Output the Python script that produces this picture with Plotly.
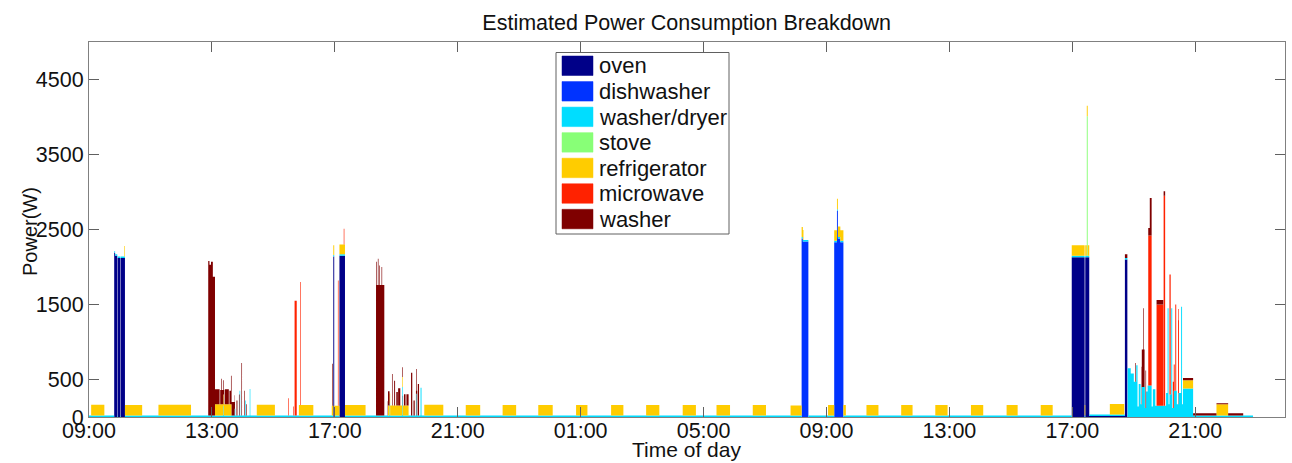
import numpy as np
import plotly.graph_objects as go

# ---------------- data (hours after 09:00 on day 1, watts) ----------------
NAMES = ["oven", "dishwasher", "washer/dryer", "stove", "refrigerator", "microwave", "washer"]
COLORS = ["#000088", "#0033FF", "#00DDFF", "#88FF77", "#FFCC00", "#FF2200", "#7F0000"]

TICK_HOURS = [0, 4, 8, 12, 16, 20, 24, 28, 32, 36]
TICK_LABELS = ["09:00", "13:00", "17:00", "21:00", "01:00", "05:00",
               "09:00", "13:00", "17:00", "21:00"]
Y_TICKS = [0, 500, 1500, 2500, 3500, 4500]

# (start_h, end_h, watts) usage intervals for each appliance
OVEN = [(0.82, 0.85, 2190), (0.85, 0.92, 2150), (0.935, 1.015, 2120), (1.03, 1.17, 2120),
        (7.95, 7.98, 2140), (8.15, 8.33, 2150),
        (31.98, 32.40, 2130), (32.42, 32.55, 2130), (32.55, 33.71, 15), (33.71, 33.79, 2100)]

DISHWASHER = [(23.19, 23.23, 2380), (23.23, 23.41, 2340),
              (24.25, 24.34, 2330), (24.34, 24.37, 2750), (24.37, 24.45, 2380), (24.45, 24.55, 2330)]

WASHER_DRYER = [(0.0, 37.88, 20),
                (4.36, 4.38, 130), (4.74, 4.76, 90), (4.90, 4.92, 330), (5.09, 5.11, 200), (5.23, 5.25, 355),
                (9.78, 9.80, 160), (10.19, 10.21, 380), (10.65, 10.67, 290), (10.79, 10.82, 370),
                (33.80, 33.90, 630), (33.90, 34.00, 560), (34.00, 34.08, 450), (34.08, 34.12, 670),
                (34.12, 34.16, 120), (34.16, 34.22, 420), (34.22, 34.26, 150), (34.26, 34.36, 380),
                (34.36, 34.40, 100), (34.40, 34.45, 320), (34.45, 34.58, 400), (34.58, 34.62, 120),
                (34.62, 34.70, 350), (34.70, 35.05, 130), (35.05, 35.10, 300), (35.10, 35.13, 1430),
                (35.13, 35.16, 150), (35.16, 35.22, 280), (35.22, 35.25, 1430), (35.25, 35.30, 100),
                (35.30, 35.40, 330), (35.40, 35.45, 150), (35.45, 35.54, 300), (35.54, 35.57, 1450),
                (35.57, 35.60, 150), (35.60, 35.93, 360)]

STOVE = [(32.47, 32.50, 1860)]

REFRIGERATOR = [(0.07, 0.50, 145), (1.15, 1.73, 140), (2.26, 3.32, 145), (4.10, 4.64, 150),
                (5.46, 6.05, 145), (6.83, 7.30, 140), (7.90, 8.33, 130), (8.33, 9.00, 140),
                (9.73, 10.40, 135), (10.91, 11.53, 145), (12.26, 12.73, 140), (13.46, 13.90, 140),
                (14.62, 15.09, 140), (15.85, 16.22, 140), (16.99, 17.39, 140), (18.13, 18.56, 140),
                (19.32, 19.75, 140), (20.42, 20.86, 140), (21.60, 22.03, 140), (22.83, 23.25, 135),
                (24.05, 24.63, 140), (25.30, 25.69, 140), (26.43, 26.80, 140), (27.54, 27.94, 140),
                (28.70, 29.10, 140), (29.86, 30.22, 140), (30.97, 31.36, 140), (31.98, 32.55, 140),
                (33.22, 33.69, 140), (35.60, 35.93, 110), (36.69, 37.07, 150)]

MICROWAVE = [(6.48, 6.50, 230), (6.64, 6.66, 120), (6.69, 6.76, 1530), (6.87, 6.89, 1640),
             (8.10, 8.12, 1670), (8.29, 8.31, 210),
             (34.47, 34.58, 2000), (34.74, 34.96, 1350), (34.97, 35.02, 2800), (35.16, 35.20, 1600),
             (35.27, 35.33, 350), (35.35, 35.38, 1150), (35.44, 35.47, 1120)]

WASHER = [(3.88, 3.92, 2060), (3.92, 3.97, 2010), (3.97, 4.03, 2050), (4.03, 4.10, 1850),
          (4.10, 4.25, 200), (4.27, 4.40, 190), (4.30, 4.32, 150), (4.42, 4.55, 200),
          (4.57, 4.75, 180), (4.62, 4.64, 200), (4.80, 4.83, 200), (4.88, 4.90, 280),
          (4.96, 4.98, 700), (5.05, 5.07, 330), (5.12, 5.14, 150), (7.91, 7.93, 560),
          (9.34, 9.61, 1740), (9.35, 9.37, 310), (9.40, 9.42, 350), (9.45, 9.47, 260), (9.52, 9.54, 240),
          (9.72, 9.78, 190), (9.86, 9.88, 420), (9.93, 9.96, 330), (10.00, 10.05, 180),
          (10.06, 10.13, 230), (10.19, 10.22, 130), (10.25, 10.30, 150), (10.33, 10.40, 150),
          (10.48, 10.52, 570), (10.56, 10.60, 200), (10.64, 10.68, 330), (10.70, 10.74, 420),
          (33.71, 33.79, 50), (34.05, 34.07, 250), (34.25, 34.35, 500), (34.30, 34.32, 550),
          (34.38, 34.40, 500), (34.47, 34.52, 100), (34.52, 34.58, 500), (34.74, 34.96, 60),
          (34.97, 35.02, 60), (35.60, 35.93, 30), (35.93, 36.69, 30), (36.69, 37.07, 15),
          (37.07, 37.56, 30)]

EVENTS = [OVEN, DISHWASHER, WASHER_DRYER, STOVE, REFRIGERATOR, MICROWAVE, WASHER]
X_END = 38.92

# ---------------- build step series on a shared time grid ----------------
bounds = {0.0, X_END}
for ev in EVENTS:
    for s, e, _ in ev:
        bounds.add(s)
        bounds.add(e)
t = np.array(sorted(bounds))

fig = go.Figure()
for name, col, ev in zip(NAMES, COLORS, EVENTS):
    v = np.zeros(len(t))
    for s, e, w in ev:
        v[(t >= s) & (t < e)] += w
    fig.add_trace(go.Scatter(x=t, y=v, name=name, stackgroup="p", mode="lines",
                             line=dict(width=0, shape="hv", color=col),
                             fillcolor=col, showlegend=False))

# ---------------- layout ----------------
L, R, T, B = 89, 1285, 42, 417
W, H = 1292, 463
FONT = "Liberation Sans, Arial, sans-serif"


def px(x):
    return (x - L) / (R - L)


def py(y):
    return (B - y) / (B - T)


axis_common = dict(showline=True, linecolor="#808080", linewidth=1, mirror="ticks",
                   ticks="inside", ticklen=10, tickcolor="#606060", showgrid=False,
                   zeroline=False, tickfont=dict(family=FONT, size=21.5, color="#111"))

fig.update_layout(
    width=W, height=H,
    margin=dict(l=L, r=W - R, t=T, b=H - B),
    paper_bgcolor="white", plot_bgcolor="white",
    title=dict(text="Estimated Power Consumption Breakdown", x=0.5315, xanchor="center",
               yref="container", y=1 - 22 / H, yanchor="middle",
               font=dict(family=FONT, size=21.5, color="#111")),
    xaxis=dict(range=[0, X_END], tickmode="array", tickvals=TICK_HOURS, ticktext=TICK_LABELS,
               ticklabelstandoff=-6, **axis_common),
    yaxis=dict(range=[0, 5000], tickmode="array", tickvals=Y_TICKS,
               ticktext=[str(v) for v in Y_TICKS], **axis_common),
    showlegend=False,
)

annotations = [
    dict(text="Time of day", x=px(686), y=py(463), xref="paper", yref="paper",
         showarrow=False, xanchor="center", yanchor="bottom",
         font=dict(family=FONT, size=21, color="#111")),
    dict(text="Power(W)", x=px(30), y=py(232), xref="paper", yref="paper",
         showarrow=False, xanchor="center", yanchor="middle", textangle=-90,
         font=dict(family=FONT, size=20, color="#111")),
]

# manual legend (MATLAB style)
shapes = [dict(type="rect", xref="paper", yref="paper", x0=px(556), x1=px(729),
               y0=py(234), y1=py(52.5), line=dict(color="#606060", width=1),
               fillcolor="white", layer="above")]
for i, (name, col) in enumerate(zip(NAMES, COLORS)):
    top = 56 + i * 25.55
    shapes.append(dict(type="rect", xref="paper", yref="paper", x0=px(562), x1=px(593),
                       y0=py(top + 19.5), y1=py(top), line=dict(color=col, width=0.5),
                       fillcolor=col, layer="above"))
    annotations.append(dict(text=name, x=px(597), y=py(top + 10), xref="paper", yref="paper",
                            showarrow=False, xanchor="left", yanchor="middle",
                            font=dict(family=FONT, size=22, color="#111")))

fig.update_layout(shapes=shapes, annotations=annotations)
fig.write_html("out.html")
